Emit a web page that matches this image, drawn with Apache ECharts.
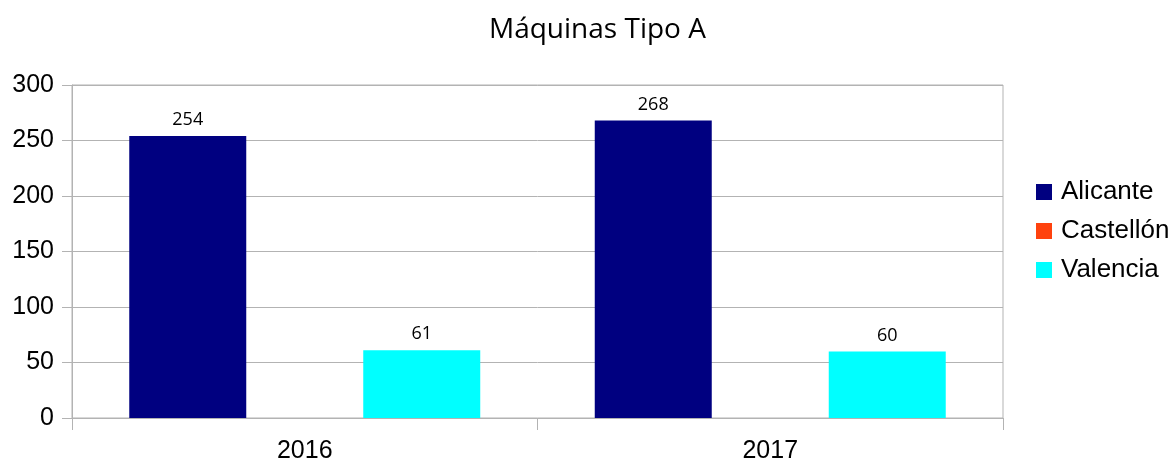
<!DOCTYPE html>
<html lang="es">
<head>
  <meta charset="UTF-8" />
  <title>Máquinas Tipo A</title>
  <script src="https://cdn.jsdelivr.net/npm/echarts@6.0.0/dist/echarts.min.js"></script>
  <style>
    html, body { margin: 0; padding: 0; background: #fff; }
    #chart { width: 1176px; height: 465px; }
  </style>
</head>
<body>
  <div id="chart"></div>
  <script>
    // data
    const years = ['2016', '2017'];
    const alicante = [254, 268];
    const castellon = [null, null];
    const valencia = [61, 60];

    const gridColor = '#b3b3b3';
    const labelStyle = { show: true, position: 'top', distance: 7, fontFamily: 'Open Sans', fontSize: 18, color: '#000' };

    const chart = echarts.init(document.getElementById('chart'));
    chart.setOption({
      animation: false,
      title: {
        text: 'Máquinas Tipo A',
        left: 489, top: 16, padding: 0,
        textStyle: { fontFamily: 'Open Sans', fontSize: 28, fontWeight: 'normal', color: '#000' }
      },
      legend: {
        orient: 'vertical', left: 1036, top: 179, padding: 0,
        itemWidth: 16, itemHeight: 16, itemGap: 13,
        icon: 'rect',
        textStyle: { fontFamily: 'Liberation Sans', fontSize: 26, color: '#000', padding: [0, 0, 0, 4] }
      },
      grid: { left: 72, right: 173, top: 85, bottom: 47, show: true, borderColor: gridColor, borderWidth: 1 },
      xAxis: {
        type: 'category', data: years,
        axisLine: { lineStyle: { color: gridColor } },
        axisTick: { show: true, length: 12, lineStyle: { color: gridColor } },
        axisLabel: { fontFamily: 'Liberation Sans', fontSize: 25, color: '#000', margin: 21 }
      },
      yAxis: {
        type: 'value', min: 0, max: 300, interval: 50,
        axisLine: { show: true, lineStyle: { color: gridColor } },
        axisTick: { show: true, length: 10, lineStyle: { color: gridColor } },
        splitLine: { lineStyle: { color: gridColor } },
        axisLabel: { fontFamily: 'Liberation Sans', fontSize: 25, color: '#000', margin: 18 }
      },
      series: [
        { name: 'Alicante', type: 'bar', data: alicante, itemStyle: { color: '#000080' }, label: labelStyle, barGap: 0, barCategoryGap: '24.6%' },
        { name: 'Castellón', type: 'bar', data: castellon, itemStyle: { color: '#ff420e' }, label: labelStyle },
        { name: 'Valencia', type: 'bar', data: valencia, itemStyle: { color: '#00ffff' }, label: labelStyle }
      ]
    });
  </script>
</body>
</html>
